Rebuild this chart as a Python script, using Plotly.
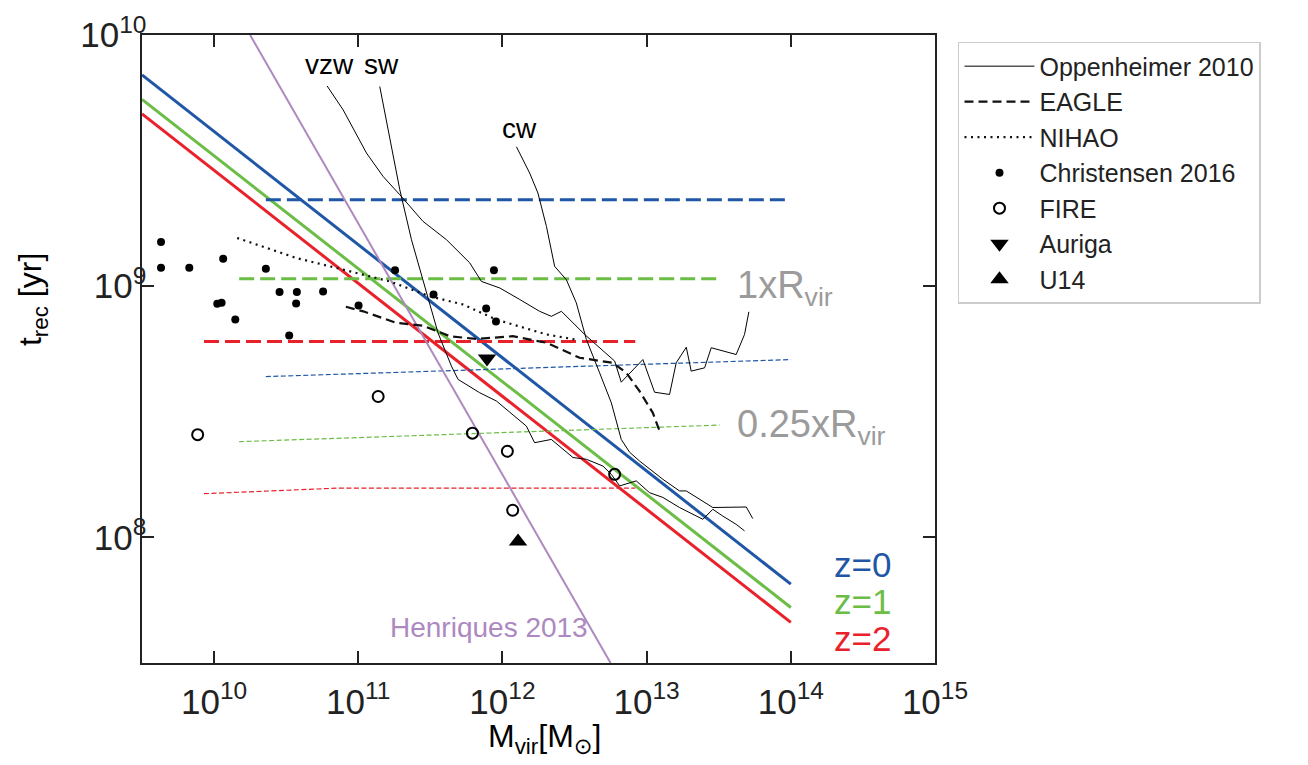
import plotly.graph_objects as go

# ---------------- data (log10 units) ----------------
x_range_log = [9.5, 15.0]
y_range_log = [7.5, 10.0]

# analytic model, solid lines
model_logM = [9.5, 14.0]
model_z0_logt = [9.841, 7.814]
model_z1_logt = [9.744, 7.721]
model_z2_logt = [9.686, 7.662]

# 1 x Rvir (thick dashed horizontal)
rvir1_z0_logM = [10.359, 14.0]
rvir1_z0_logt = [9.344, 9.344]
rvir1_z1_logM = [10.174, 13.506]
rvir1_z1_logt = [9.030, 9.030]
rvir1_z2_logM = [9.930, 12.921]
rvir1_z2_logt = [8.780, 8.780]

# 0.25 x Rvir (thin dashed)
rvir025_z0_logM = [10.359, 14.0]
rvir025_z0_logt = [8.640, 8.708]
rvir025_z1_logM = [10.174, 13.506]
rvir025_z1_logt = [8.381, 8.447]
rvir025_z2_logM = [9.930, 10.4, 10.85, 12.921]
rvir025_z2_logt = [8.174, 8.186, 8.196, 8.196]

# Henriques 2013
henriques_logM = [10.25, 12.75]
henriques_logt = [10.0, 7.5]

# Oppenheimer 2010
vzw_logM = [10.784, 10.895, 11.057, 11.172, 11.288, 11.449, 11.612, 11.773, 11.854, 11.981,
            12.120, 12.258, 12.339, 12.409, 12.570, 12.778, 12.824, 12.974, 13.055, 13.159,
            13.205, 13.275, 13.309, 13.402, 13.448, 13.621, 13.679, 13.709]
vzw_logt = [9.797, 9.702, 9.530, 9.437, 9.364, 9.258, 9.185, 9.093, 9.019, 8.993,
            8.947, 8.900, 8.880, 8.900, 8.808, 8.702, 8.618, 8.708, 8.578, 8.569,
            8.695, 8.757, 8.662, 8.675, 8.755, 8.728, 8.808, 8.898]
sw_logM = [11.149, 11.219, 11.288, 11.369, 11.473, 11.553, 11.646, 11.692, 11.842, 11.958,
           12.166, 12.223, 12.339, 12.489, 12.582, 12.697, 12.755, 12.813, 12.928, 13.020,
           13.113, 13.228, 13.390, 13.459, 13.528, 13.621, 13.679]
sw_logt = [9.795, 9.583, 9.384, 9.185, 8.973, 8.814, 8.682, 8.629, 8.576, 8.543,
           8.443, 8.377, 8.390, 8.318, 8.311, 8.284, 8.251, 8.205, 8.225, 8.178,
           8.159, 8.119, 8.072, 8.112, 8.085, 8.052, 8.026]
cw_logM = [12.097, 12.189, 12.246, 12.305, 12.362, 12.443, 12.512, 12.582, 12.674, 12.755,
           12.824, 12.882, 12.951, 13.113, 13.228, 13.275, 13.459, 13.691, 13.736]
cw_logt = [9.555, 9.450, 9.371, 9.238, 9.079, 9.026, 8.934, 8.788, 8.655, 8.536,
           8.390, 8.339, 8.304, 8.231, 8.185, 8.185, 8.119, 8.121, 8.075]

# EAGLE
eagle_logM = [10.914, 11.034, 11.265, 11.449, 11.634, 11.820, 12.071, 12.305, 12.535,
              12.766, 12.859, 12.951, 13.043, 13.090]
eagle_logt = [8.918, 8.900, 8.854, 8.843, 8.801, 8.790, 8.801, 8.775, 8.715,
              8.695, 8.655, 8.582, 8.496, 8.423]

# NIHAO
nihao_logM = [10.160, 10.572, 10.895, 11.219, 11.496, 11.727, 11.958, 12.305, 12.501]
nihao_logt = [9.192, 9.112, 9.066, 9.019, 8.960, 8.927, 8.867, 8.808, 8.788]

# Christensen 2016
chr_logM = [9.632, 9.632, 9.828, 10.063, 10.359, 10.022, 10.052, 10.147, 10.454, 10.574,
            10.756, 10.569, 10.521, 11.002, 11.255, 11.522, 11.941, 11.887, 11.955]
chr_logt = [9.176, 9.073, 9.073, 9.109, 9.069, 8.930, 8.934, 8.867, 8.977, 8.977,
            8.979, 8.931, 8.804, 8.923, 9.063, 8.967, 9.063, 8.911, 8.859]

# FIRE
fire_logM = [9.886, 11.138, 11.792, 12.034, 12.071, 12.778]
fire_logt = [8.409, 8.561, 8.415, 8.343, 8.108, 8.251]

# Auriga, U14
auriga_logM = [11.893]
auriga_logt = [8.712]
u14_logM = [12.108]
u14_logt = [7.984]


def p(v):
    return [10 ** a for a in v]


BLUE = "#1f56a5"
GREEN = "#6bbd46"
RED = "#e8212b"
PURPLE = "#ad89bf"
GRAY = "#9b9b9b"
FONT = "Liberation Sans, Arial, DejaVu Sans, sans-serif"

fig = go.Figure()

# colored thick model lines
for lt, c in [(model_z0_logt, BLUE), (model_z1_logt, GREEN), (model_z2_logt, RED)]:
    fig.add_trace(go.Scatter(x=p(model_logM), y=p(lt), mode="lines",
                             line=dict(color=c, width=3), showlegend=False, hoverinfo="skip"))
# 1xRvir
for lm, lt, c in [(rvir1_z0_logM, rvir1_z0_logt, BLUE), (rvir1_z1_logM, rvir1_z1_logt, GREEN),
                  (rvir1_z2_logM, rvir1_z2_logt, RED)]:
    fig.add_trace(go.Scatter(x=p(lm), y=p(lt), mode="lines",
                             line=dict(color=c, width=3, dash="15px,6px"),
                             showlegend=False, hoverinfo="skip"))
# 0.25xRvir
for lm, lt, c in [(rvir025_z0_logM, rvir025_z0_logt, BLUE), (rvir025_z1_logM, rvir025_z1_logt, GREEN),
                  (rvir025_z2_logM, rvir025_z2_logt, RED)]:
    fig.add_trace(go.Scatter(x=p(lm), y=p(lt), mode="lines",
                             line=dict(color=c, width=1.2, dash="5px,2.5px"),
                             showlegend=False, hoverinfo="skip"))
# Henriques
fig.add_trace(go.Scatter(x=p(henriques_logM), y=p(henriques_logt), mode="lines",
                         line=dict(color=PURPLE, width=2), showlegend=False, hoverinfo="skip"))

# Oppenheimer
fig.add_trace(go.Scatter(x=p(vzw_logM), y=p(vzw_logt), mode="lines", name="Oppenheimer 2010",
                         line=dict(color="black", width=1), legendrank=1))
fig.add_trace(go.Scatter(x=p(sw_logM), y=p(sw_logt), mode="lines", showlegend=False,
                         line=dict(color="black", width=1)))
fig.add_trace(go.Scatter(x=p(cw_logM), y=p(cw_logt), mode="lines", showlegend=False,
                         line=dict(color="black", width=1)))
# EAGLE
fig.add_trace(go.Scatter(x=p(eagle_logM), y=p(eagle_logt), mode="lines", name="EAGLE",
                         line=dict(color="#111111", width=2.2, dash="9px,5px"), legendrank=2))
# NIHAO
fig.add_trace(go.Scatter(x=p(nihao_logM), y=p(nihao_logt), mode="lines", name="NIHAO",
                         line=dict(color="#111111", width=2.2, dash="2px,4.5px"), legendrank=3))
# markers
fig.add_trace(go.Scatter(x=p(chr_logM), y=p(chr_logt), mode="markers", name="Christensen 2016",
                         marker=dict(color="black", size=8, symbol="circle"), legendrank=4))
fig.add_trace(go.Scatter(x=p(fire_logM), y=p(fire_logt), mode="markers", name="FIRE",
                         marker=dict(color="black", size=11, symbol="circle-open", line=dict(width=2)),
                         legendrank=5))
fig.add_trace(go.Scatter(x=p(auriga_logM), y=p(auriga_logt), mode="markers", name="Auriga",
                         marker=dict(color="black", size=16, symbol="triangle-down"), legendrank=6))
fig.add_trace(go.Scatter(x=p(u14_logM), y=p(u14_logt), mode="markers", name="U14",
                         marker=dict(color="black", size=16, symbol="triangle-up"), legendrank=7))

ann = []
def txt(x, y, s, size, color="black", xanchor="center", yanchor="middle", xref="x", yref="y", angle=0):
    ann.append(dict(x=x, y=y, text=s, xref=xref, yref=yref, showarrow=False,
                    font=dict(size=size, color=color, family=FONT),
                    xanchor=xanchor, yanchor=yanchor, textangle=angle))

txt(10.799, 9.881, "vzw", 28)
txt(11.163, 9.881, "sw", 28)
txt(12.116, 9.626, "cw", 28)
txt(13.616, 8.994, "1xR<sub>vir</sub>", 38, GRAY, xanchor="left")
txt(13.610, 8.438, "0.25xR<sub>vir</sub>", 38, GRAY, xanchor="left")
txt(14.289, 7.893, "z=0", 35, BLUE, xanchor="left")
txt(14.289, 7.745, "z=1", 35, GREEN, xanchor="left")
txt(14.289, 7.597, "z=2", 35, RED, xanchor="left")
txt(11.205, 7.643, "Henriques 2013", 28, PURPLE, xanchor="left")
txt(-0.1387, 0.578, "t<sub>rec</sub> [yr]", 32, xref="paper", yref="paper", angle=-90)
txt(0.508, -0.1195, "M<sub>vir</sub>[M<sub>⊙</sub>]", 32, xref="paper", yref="paper")

axis_common = dict(type="log", showgrid=False, zeroline=False, showline=True, linecolor="#222222",
                   linewidth=2, mirror="ticks", ticks="inside", ticklen=12, tickwidth=2,
                   tickcolor="#222222", dtick=1, exponentformat="power",
                   tickfont=dict(size=28, family=FONT, color="#222222"))

fig.update_layout(
    width=1308, height=765,
    margin=dict(l=142, r=373, t=35, b=102),
    paper_bgcolor="white", plot_bgcolor="white",
    xaxis=dict(range=x_range_log, ticklabelstandoff=8, **axis_common),
    yaxis=dict(range=y_range_log, ticklabelstandoff=-12, **axis_common),
    showlegend=True,
    legend=dict(x=1.029, y=0.989, xanchor="left", yanchor="top",
                bgcolor="white", bordercolor="#cccccc", borderwidth=1.5,
                font=dict(size=25, family=FONT, color="#222222"),
                itemwidth=70, tracegroupgap=0),
    annotations=ann,
)

fig.write_html("out.html")
